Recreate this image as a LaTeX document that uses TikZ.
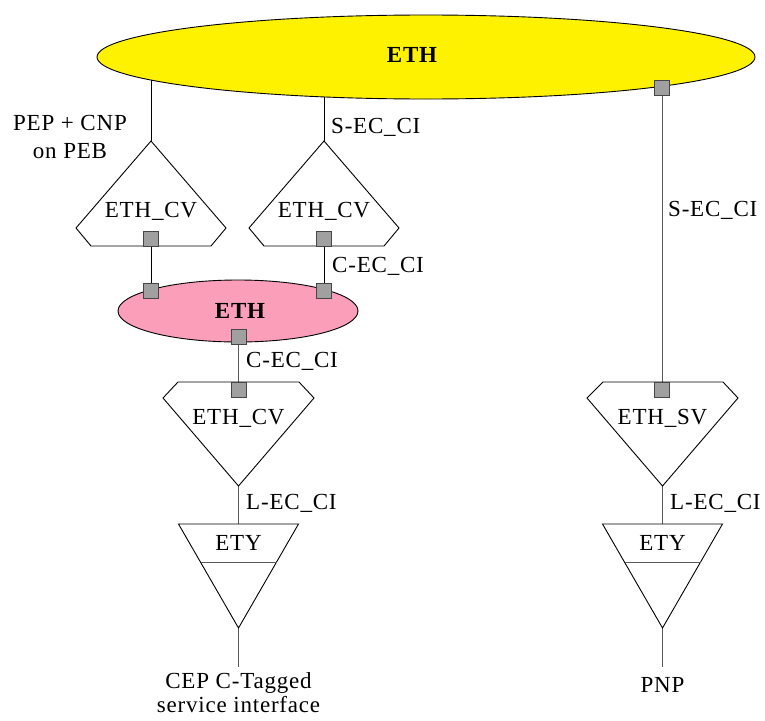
\documentclass[tikz,border=0pt]{standalone}
\usepackage{fontspec}
\setmainfont{Liberation Serif}
\newfontfamily\diagfont[LetterSpace=3.5]{Liberation Serif}
\usetikzlibrary{shapes.geometric}
\pgfdeclarelayer{background}
\pgfsetlayers{background,main}
\definecolor{pinkfill}{RGB}{250,158,185}
\definecolor{sqfill}{RGB}{160,160,160}
\definecolor{sqdraw}{RGB}{70,70,70}
\definecolor{linegray}{RGB}{90,90,90}
\tikzset{
  lbl/.style={inner sep=0pt, font=\diagfont\fontsize{23}{26}\selectfont},
  blbl/.style={inner sep=0pt, font=\diagfont\fontsize{23}{26}\selectfont\bfseries},
  port/.style={draw=sqdraw, fill=sqfill, line width=0.8pt, minimum size=15pt, inner sep=0pt},
  shapeline/.style={draw=black, line width=0.9pt, fill=white},
  conn/.style={draw=linegray, line width=1pt},
}
\begin{document}
\begin{tikzpicture}[x=1pt,y=-1pt]
\useasboundingbox (0,0) rectangle (765,720);
% big ellipse
\node[ellipse, draw, fill=yellow, line width=0.9pt, minimum width=658pt, minimum height=84pt, inner sep=0pt] (E1) at (426,57) {};
\node[blbl] (E1t) at (412,55) {ETH};
% upper ETH_CV A
\coordinate (cvAtop) at (151,141);
\path[shapeline] (cvAtop) -- (226,228) -- (211,246) -- (91,246) -- (76,228) -- cycle;
\node[lbl] (cvAt) at (151,211) {ETH\_CV};
% upper ETH_CV B
\coordinate (cvBtop) at (324,141);
\path[shapeline] (cvBtop) -- (399,228) -- (384,246) -- (264,246) -- (249,228) -- cycle;
\node[lbl] (cvBt) at (324,211) {ETH\_CV};
% pink ellipse
\node[ellipse, draw, fill=pinkfill, line width=0.9pt, minimum width=240pt, minimum height=62pt, inner sep=0pt] (E2) at (238,311) {};
\node[blbl] (E2t) at (240,311) {ETH};
% lower ETH_CV
\coordinate (cvCbot) at (238.5,486);
\path[shapeline] (178,382) -- (299,382) -- (314,398) -- (cvCbot) -- (163,398) -- cycle;
\node[lbl] (cvCt) at (238.5,418) {ETH\_CV};
% ETH_SV
\coordinate (svbot) at (662.5,486);
\path[shapeline] (603,382) -- (723,382) -- (738,398) -- (svbot) -- (587,398) -- cycle;
\node[lbl] (svt) at (662.5,418) {ETH\_SV};
% ETY left
\coordinate (etyAtop) at (238.5,524);
\coordinate (etyAbot) at (238.5,628);
\path[shapeline] (178.5,524) -- (298.5,524) -- (etyAbot) -- cycle;
\draw[draw=linegray, line width=1pt] (200.5,562) -- (276.5,562);
\node[lbl] (etyAt) at (238.5,543) {ETY};
% ETY right
\coordinate (etyBtop) at (662.5,524);
\coordinate (etyBbot) at (662.5,628);
\path[shapeline] (602.5,524) -- (722.5,524) -- (etyBbot) -- cycle;
\draw[draw=linegray, line width=1pt] (624.5,562) -- (700.5,562);
\node[lbl] (etyBt) at (662.5,543) {ETY};
% ports
\node[port] (pA) at (151,238.5) {};
\node[port] (pB) at (324,238.5) {};
\node[port] (pC) at (151,291) {};
\node[port] (pD) at (324,291) {};
\node[port] (pE) at (238.5,337) {};
\node[port] (pF) at (238.5,389.5) {};
\node[port] (pG) at (662,88) {};
\node[port] (pH) at (662,389.5) {};
% end points
\coordinate (endA) at (238.5,667);
\coordinate (endB) at (662.5,667);
% texts
\node[lbl] (peptxt) at (70,123) {PEP + CNP};
\node[lbl] (pebtxt) at (70,151) {on PEB};
\node[lbl, anchor=west] (sec1) at (331,127) {S-EC\_CI};
\node[lbl, anchor=west] (sec2) at (668,210) {S-EC\_CI};
\node[lbl, anchor=west] (cec1) at (332,266) {C-EC\_CI};
\node[lbl, anchor=west] (cec2) at (246,361) {C-EC\_CI};
\node[lbl, anchor=west] (lec1) at (246,503) {L-EC\_CI};
\node[lbl, anchor=west] (lec2) at (670,503) {L-EC\_CI};
\node[lbl] (cep1) at (238.5,683) {CEP C-Tagged};
\node[lbl] (cep2) at (238.5,705) {service interface};
\node[lbl] (pnp) at (662.5,685) {PNP};
% connectors
\begin{pgfonlayer}{background}
\draw[conn, draw=black] (cvAtop) -- (cvAtop |- E1.center);
\draw[conn, draw=black] (cvBtop) -- (cvBtop |- E1.center);
\draw[conn, draw=black] (pA) -- (pC);
\draw[conn, draw=black] (pB) -- (pD);
\draw[conn] (pE) -- (pF);
\draw[conn] (pG) -- (pH);
\draw[conn] (cvCbot) -- (etyAtop);
\draw[conn] (svbot) -- (etyBtop);
\draw[conn] (etyAbot) -- (endA);
\draw[conn] (etyBbot) -- (endB);
\end{pgfonlayer}
\end{tikzpicture}
\end{document}
